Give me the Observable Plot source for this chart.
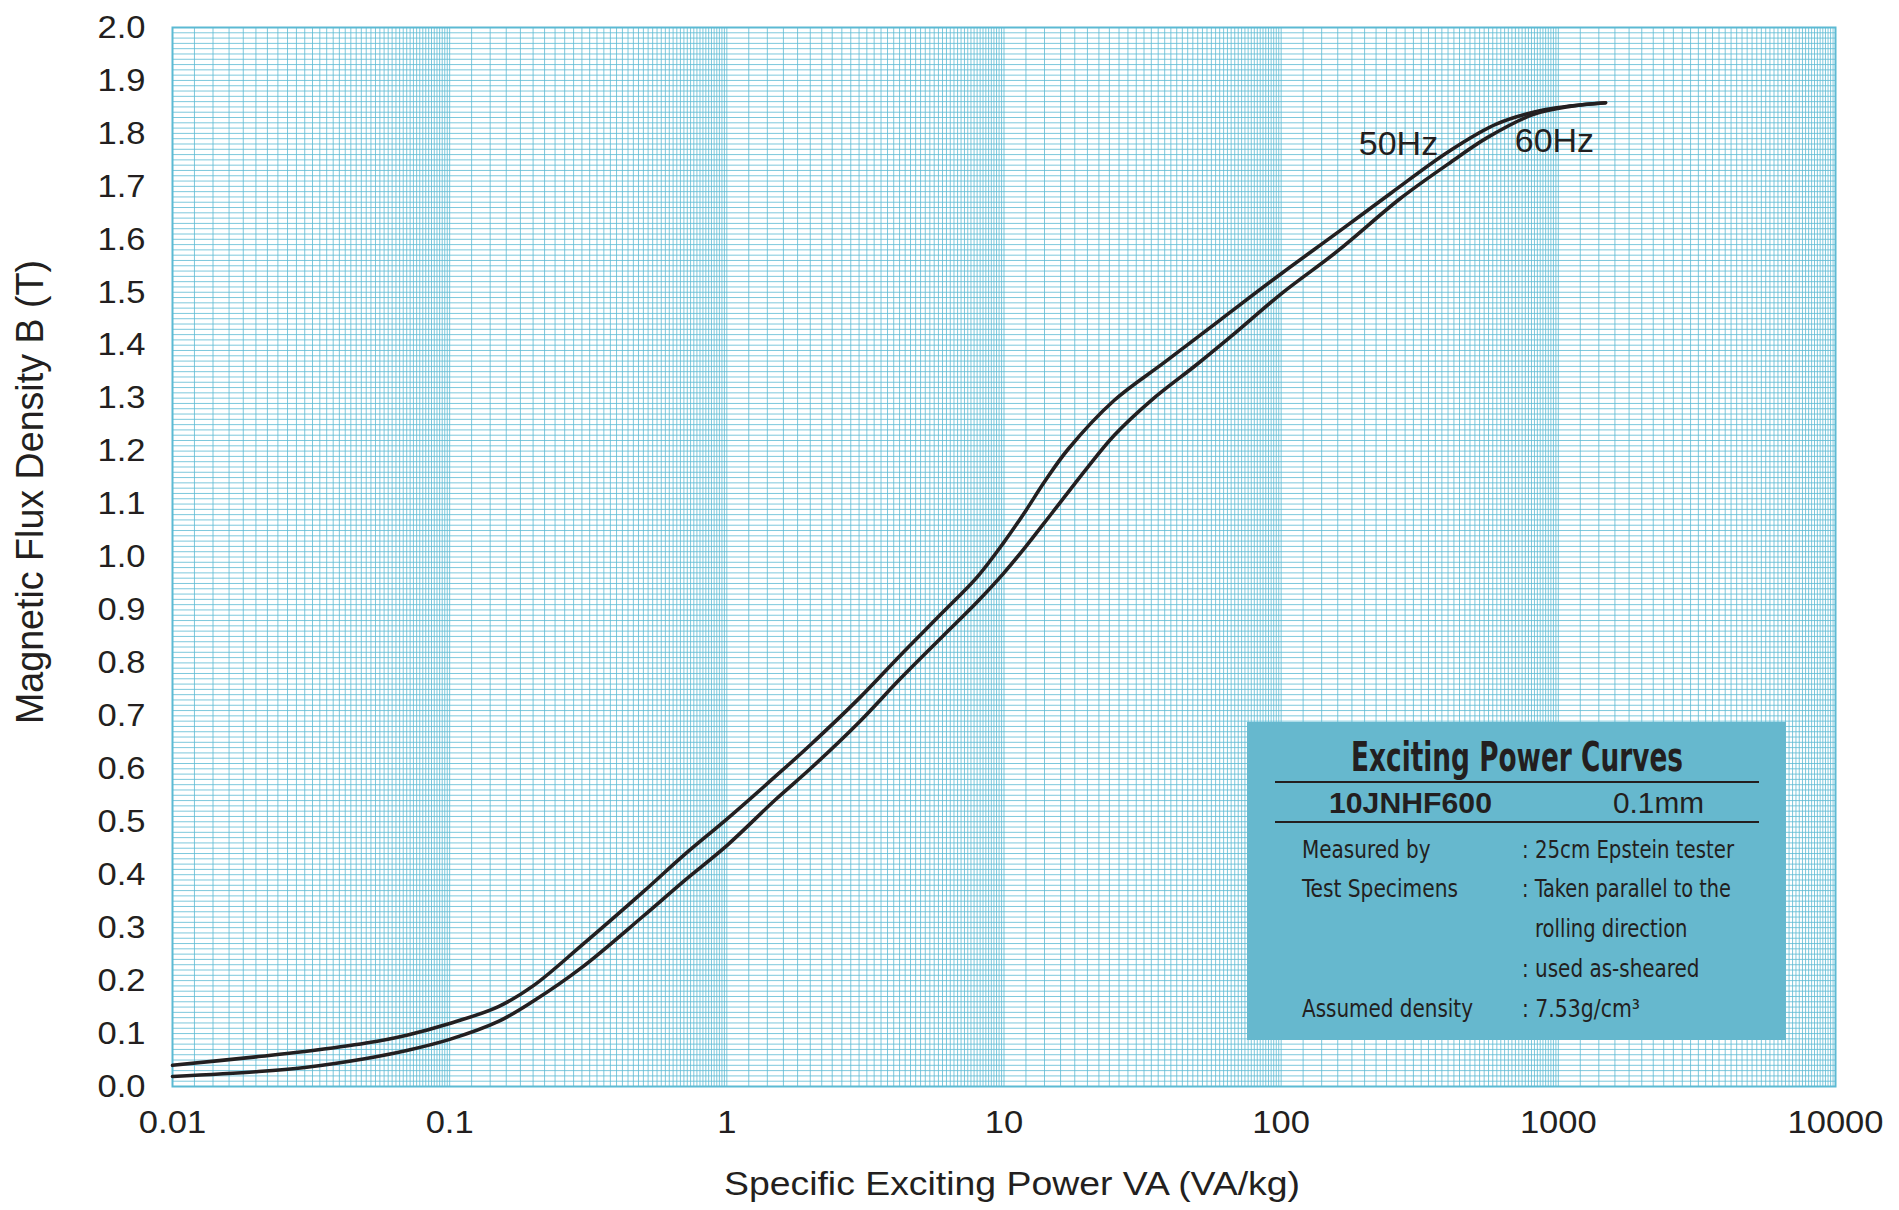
<!DOCTYPE html>
<html><head><meta charset="utf-8">
<script src="https://cdn.jsdelivr.net/npm/d3@7"></script>
<script src="https://cdn.jsdelivr.net/npm/@observablehq/plot@0.6"></script>
<style>
body{margin:0;background:#fff}
#chart{position:relative;width:1899px;height:1210px}
</style>
</head><body><div id="chart"></div>
<script>
// ---- data ----
const x50 = [0.01, 0.02, 0.03, 0.05, 0.07, 0.1, 0.15, 0.2, 0.3, 0.5, 0.7, 1.0, 1.5, 2, 3, 4.24, 6, 8, 10, 12, 14, 17, 25, 38, 60, 100, 160, 250, 400, 600, 900, 1480];
const b50 = [0.040, 0.056, 0.066, 0.082, 0.097, 0.119, 0.151, 0.190, 0.267, 0.368, 0.437, 0.505, 0.586, 0.645, 0.733, 0.815, 0.895, 0.962, 1.028, 1.088, 1.142, 1.203, 1.296, 1.368, 1.447, 1.535, 1.613, 1.688, 1.765, 1.818, 1.845, 1.858];
const x60 = [0.01, 0.02, 0.03, 0.05, 0.07, 0.1, 0.15, 0.2, 0.3, 0.5, 0.7, 1.0, 1.5, 2, 3, 4.24, 6, 8, 10, 12, 15, 20, 25, 34, 50, 70, 100, 160, 269, 400, 554, 815, 1100, 1480];
const b60 = [0.019, 0.028, 0.036, 0.053, 0.068, 0.089, 0.123, 0.161, 0.225, 0.322, 0.388, 0.455, 0.542, 0.600, 0.688, 0.771, 0.850, 0.915, 0.970, 1.020, 1.085, 1.169, 1.230, 1.296, 1.365, 1.428, 1.497, 1.578, 1.677, 1.742, 1.792, 1.836, 1.851, 1.858];
const seriesNames = ["50Hz", "60Hz"];
const labelX = [265, 968];
const labelY = [1.779, 1.785];
const xTicks = [0.01, 0.1, 1, 10, 100, 1000, 10000];
const yTicks = [0.0, 0.1, 0.2, 0.3, 0.4, 0.5, 0.6, 0.7, 0.8, 0.9, 1.0, 1.1, 1.2, 1.3, 1.4, 1.5, 1.6, 1.7, 1.8, 1.9, 2.0];
const xTitle = "Specific Exciting Power VA (VA/kg)";
const yTitle = "Magnetic Flux Density B (T)";
const legendTitle = "Exciting Power Curves";
const legendGrade = "10JNHF600";
const legendThickness = "0.1mm";
const legendKeys = ["Measured by", "Test Specimens", "Assumed density"];
const legendVals = [": 25cm Epstein tester", ": Taken parallel to the", "rolling direction", ": used as-sheared", ": 7.53g/cm\u00B3"];

// ---- build tables ----
const curves = [
  ...x50.map((x, i) => ({x, b: b50[i], f: seriesNames[0]})),
  ...x60.map((x, i) => ({x, b: b60[i], f: seriesNames[1]}))
];
const labels = seriesNames.map((n, i) => ({n, x: labelX[i], y: labelY[i]}));

// graph-paper grid
const decades = [0.01, 0.1, 1, 10, 100, 1000];
const vGrid = [];
for (const d of decades) for (let k = 0; k < 45; k++) vGrid.push(d * (1 + 0.2 * k));
vGrid.push(10000);
const hGrid = d3.range(0, 201).map(i => i / 100);

const gridColor = "#5cbad3";
const ink = "#231f20";
const sans = "'Liberation Sans', Arial, Helvetica, sans-serif";
const narrow = "'Liberation Sans Narrow', 'Arial Narrow', 'DejaVu Sans Condensed', 'Liberation Sans', sans-serif";

const plot = Plot.plot({
  width: 1899, height: 1210,
  marginLeft: 172, marginRight: 64, marginTop: 27, marginBottom: 124,
  style: {fontFamily: sans, fontSize: "32px", color: ink, background: "#fff"},
  x: {type: "log", domain: [0.01, 10000]},
  y: {domain: [0, 2]},
  marks: [
    Plot.ruleX(vGrid, {stroke: gridColor, strokeWidth: 0.8}),
    Plot.ruleY(hGrid, {stroke: gridColor, strokeWidth: 0.8}),
    Plot.frame({stroke: gridColor, strokeWidth: 2}),
    Plot.line(curves, {x: "x", y: "b", z: "f", stroke: ink, strokeWidth: 3.6, curve: "catmull-rom"}),
    Plot.text(labels, {x: "x", y: "y", text: "n", fontSize: 34, fill: ink, textAnchor: "middle"}),
    Plot.axisX({ticks: xTicks, tickSize: 0, tickPadding: 24, tickFormat: d => String(d), label: null}),
    Plot.axisY({ticks: yTicks, tickSize: 0, tickPadding: 27, tickFormat: d3.format(".1f"), label: null})
  ]
});
document.getElementById("chart").appendChild(plot);

const svg = d3.select(plot);
// slight horizontal stretch of tick labels, as in the reference typeface
svg.selectAll('g[aria-label="x-axis tick label"] text, g[aria-label="y-axis tick label"] text')
  .attr("transform", function () { return (this.getAttribute("transform") || "") + " scale(1.08,1)"; });

// axis titles
svg.append("text").attr("x", 1012).attr("y", 1195).attr("text-anchor", "middle")
  .attr("font-family", sans).attr("font-size", 34).attr("fill", ink)
  .attr("textLength", 576).attr("lengthAdjust", "spacingAndGlyphs").text(xTitle);
svg.append("text").attr("transform", "translate(43,492) rotate(-90)").attr("text-anchor", "middle")
  .attr("font-family", sans).attr("font-size", 38).attr("fill", ink)
  .attr("textLength", 464).attr("lengthAdjust", "spacingAndGlyphs").text(yTitle);

// legend box
const lg = svg.append("g").attr("text-anchor", "start");
lg.append("rect").attr("x", 1247).attr("y", 722).attr("width", 539).attr("height", 318).attr("fill", "#66b8ce");
const t = (x, y, s, size, w, family, weight) => lg.append("text").attr("x", x).attr("y", y)
  .attr("text-anchor", "start").attr("font-family", family).attr("font-weight", weight || "normal")
  .attr("font-size", size).attr("fill", ink).attr("textLength", w).attr("lengthAdjust", "spacingAndGlyphs").text(s);
t(1351, 771, legendTitle, 41, 332, narrow, "bold");
lg.append("line").attr("x1", 1275).attr("x2", 1759).attr("y1", 782).attr("y2", 782).attr("stroke", ink).attr("stroke-width", 2);
t(1329, 813, legendGrade, 29, 163, sans, "bold");
t(1613, 813, legendThickness, 29, 91, sans);
lg.append("line").attr("x1", 1275).attr("x2", 1759).attr("y1", 822).attr("y2", 822).attr("stroke", ink).attr("stroke-width", 2);
const keyY = [858, 897, 1017], keyW = [128.6, 156, 171];
legendKeys.forEach((k, i) => t(1302, keyY[i], k, 25, keyW[i], narrow));
const valX = [1522, 1522, 1535, 1522, 1522], valY = [858, 897, 937, 977, 1017], valW = [212, 209, 152.5, 177.5, 118];
legendVals.forEach((v, i) => t(valX[i], valY[i], v, 25, valW[i], narrow));
</script></body></html>
